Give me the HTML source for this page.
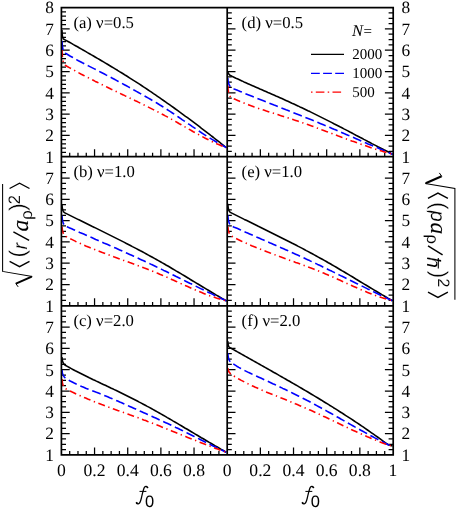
<!DOCTYPE html>
<html><head><meta charset="utf-8"><title>chart</title>
<style>html,body{margin:0;padding:0;background:#fff}svg{display:block;will-change:transform;text-rendering:geometricPrecision}</style>
</head><body>
<svg width="457" height="508" viewBox="0 0 457 508">
<rect width="457" height="508" fill="#fff"/>
<path d="M61.40,152.44h4.6M61.40,148.18h4.6M61.40,143.92h4.6M61.40,139.66h4.6M61.40,135.40h8.3M61.40,131.14h4.6M61.40,126.88h4.6M61.40,122.62h4.6M61.40,118.36h4.6M61.40,114.10h8.3M61.40,109.84h4.6M61.40,105.58h4.6M61.40,101.32h4.6M61.40,97.06h4.6M61.40,92.80h8.3M61.40,88.54h4.6M61.40,84.28h4.6M61.40,80.02h4.6M61.40,75.76h4.6M61.40,71.50h8.3M61.40,67.24h4.6M61.40,62.98h4.6M61.40,58.72h4.6M61.40,54.46h4.6M61.40,50.20h8.3M61.40,45.94h4.6M61.40,41.68h4.6M61.40,37.42h4.6M61.40,33.16h4.6M61.40,28.90h8.3M61.40,24.64h4.6M61.40,20.38h4.6M61.40,16.12h4.6M61.40,11.86h4.6M69.69,156.70v-3.9M77.98,156.70v-3.9M86.27,156.70v-3.9M94.56,156.70v-7.5M102.85,156.70v-3.9M111.14,156.70v-3.9M119.43,156.70v-3.9M127.72,156.70v-7.5M136.01,156.70v-3.9M144.30,156.70v-3.9M152.59,156.70v-3.9M160.88,156.70v-7.5M169.17,156.70v-3.9M177.46,156.70v-3.9M185.75,156.70v-3.9M194.04,156.70v-7.5M202.33,156.70v-3.9M210.62,156.70v-3.9M218.91,156.70v-3.9M61.40,300.48h4.6M61.40,295.15h4.6M61.40,289.82h4.6M61.40,284.50h8.3M61.40,279.18h4.6M61.40,273.85h4.6M61.40,268.53h4.6M61.40,263.20h8.3M61.40,257.88h4.6M61.40,252.55h4.6M61.40,247.23h4.6M61.40,241.90h8.3M61.40,236.57h4.6M61.40,231.25h4.6M61.40,225.93h4.6M61.40,220.60h8.3M61.40,215.28h4.6M61.40,209.95h4.6M61.40,204.62h4.6M61.40,199.30h8.3M61.40,193.98h4.6M61.40,188.65h4.6M61.40,183.32h4.6M61.40,178.00h8.3M61.40,172.68h4.6M61.40,167.35h4.6M61.40,162.03h4.6M69.69,305.80v-3.9M77.98,305.80v-3.9M86.27,305.80v-3.9M94.56,305.80v-7.5M102.85,305.80v-3.9M111.14,305.80v-3.9M119.43,305.80v-3.9M127.72,305.80v-7.5M136.01,305.80v-3.9M144.30,305.80v-3.9M152.59,305.80v-3.9M160.88,305.80v-7.5M169.17,305.80v-3.9M177.46,305.80v-3.9M185.75,305.80v-3.9M194.04,305.80v-7.5M202.33,305.80v-3.9M210.62,305.80v-3.9M218.91,305.80v-3.9M61.40,449.57h4.6M61.40,444.25h4.6M61.40,438.92h4.6M61.40,433.60h8.3M61.40,428.27h4.6M61.40,422.95h4.6M61.40,417.62h4.6M61.40,412.30h8.3M61.40,406.97h4.6M61.40,401.65h4.6M61.40,396.32h4.6M61.40,391.00h8.3M61.40,385.67h4.6M61.40,380.35h4.6M61.40,375.02h4.6M61.40,369.70h8.3M61.40,364.38h4.6M61.40,359.05h4.6M61.40,353.72h4.6M61.40,348.40h8.3M61.40,343.07h4.6M61.40,337.75h4.6M61.40,332.42h4.6M61.40,327.10h8.3M61.40,321.77h4.6M61.40,316.45h4.6M61.40,311.12h4.6M69.69,454.90v-3.9M77.98,454.90v-3.9M86.27,454.90v-3.9M94.56,454.90v-7.5M102.85,454.90v-3.9M111.14,454.90v-3.9M119.43,454.90v-3.9M127.72,454.90v-7.5M136.01,454.90v-3.9M144.30,454.90v-3.9M152.59,454.90v-3.9M160.88,454.90v-7.5M169.17,454.90v-3.9M177.46,454.90v-3.9M185.75,454.90v-3.9M194.04,454.90v-7.5M202.33,454.90v-3.9M210.62,454.90v-3.9M218.91,454.90v-3.9M227.20,151.38h4.6M393.20,151.38h-4.6M227.20,146.05h4.6M393.20,146.05h-4.6M227.20,140.72h4.6M393.20,140.72h-4.6M227.20,135.40h8.3M393.20,135.40h-8.3M227.20,130.07h4.6M393.20,130.07h-4.6M227.20,124.75h4.6M393.20,124.75h-4.6M227.20,119.42h4.6M393.20,119.42h-4.6M227.20,114.10h8.3M393.20,114.10h-8.3M227.20,108.77h4.6M393.20,108.77h-4.6M227.20,103.45h4.6M393.20,103.45h-4.6M227.20,98.12h4.6M393.20,98.12h-4.6M227.20,92.80h8.3M393.20,92.80h-8.3M227.20,87.47h4.6M393.20,87.47h-4.6M227.20,82.15h4.6M393.20,82.15h-4.6M227.20,76.82h4.6M393.20,76.82h-4.6M227.20,71.50h8.3M393.20,71.50h-8.3M227.20,66.17h4.6M393.20,66.17h-4.6M227.20,60.85h4.6M393.20,60.85h-4.6M227.20,55.52h4.6M393.20,55.52h-4.6M227.20,50.20h8.3M393.20,50.20h-8.3M227.20,44.87h4.6M393.20,44.87h-4.6M227.20,39.55h4.6M393.20,39.55h-4.6M227.20,34.22h4.6M393.20,34.22h-4.6M227.20,28.90h8.3M393.20,28.90h-8.3M227.20,23.57h4.6M393.20,23.57h-4.6M227.20,18.25h4.6M393.20,18.25h-4.6M227.20,12.92h4.6M393.20,12.92h-4.6M235.49,156.70v-3.9M243.78,156.70v-3.9M252.07,156.70v-3.9M260.36,156.70v-7.5M268.65,156.70v-3.9M276.94,156.70v-3.9M285.23,156.70v-3.9M293.52,156.70v-7.5M301.81,156.70v-3.9M310.10,156.70v-3.9M318.39,156.70v-3.9M326.68,156.70v-7.5M334.97,156.70v-3.9M343.26,156.70v-3.9M351.55,156.70v-3.9M359.84,156.70v-7.5M368.13,156.70v-3.9M376.42,156.70v-3.9M384.71,156.70v-3.9M227.20,300.48h4.6M393.20,300.48h-4.6M227.20,295.15h4.6M393.20,295.15h-4.6M227.20,289.82h4.6M393.20,289.82h-4.6M227.20,284.50h8.3M393.20,284.50h-8.3M227.20,279.18h4.6M393.20,279.18h-4.6M227.20,273.85h4.6M393.20,273.85h-4.6M227.20,268.53h4.6M393.20,268.53h-4.6M227.20,263.20h8.3M393.20,263.20h-8.3M227.20,257.88h4.6M393.20,257.88h-4.6M227.20,252.55h4.6M393.20,252.55h-4.6M227.20,247.23h4.6M393.20,247.23h-4.6M227.20,241.90h8.3M393.20,241.90h-8.3M227.20,236.57h4.6M393.20,236.57h-4.6M227.20,231.25h4.6M393.20,231.25h-4.6M227.20,225.93h4.6M393.20,225.93h-4.6M227.20,220.60h8.3M393.20,220.60h-8.3M227.20,215.28h4.6M393.20,215.28h-4.6M227.20,209.95h4.6M393.20,209.95h-4.6M227.20,204.62h4.6M393.20,204.62h-4.6M227.20,199.30h8.3M393.20,199.30h-8.3M227.20,193.98h4.6M393.20,193.98h-4.6M227.20,188.65h4.6M393.20,188.65h-4.6M227.20,183.32h4.6M393.20,183.32h-4.6M227.20,178.00h8.3M393.20,178.00h-8.3M227.20,172.68h4.6M393.20,172.68h-4.6M227.20,167.35h4.6M393.20,167.35h-4.6M227.20,162.03h4.6M393.20,162.03h-4.6M235.49,305.80v-3.9M243.78,305.80v-3.9M252.07,305.80v-3.9M260.36,305.80v-7.5M268.65,305.80v-3.9M276.94,305.80v-3.9M285.23,305.80v-3.9M293.52,305.80v-7.5M301.81,305.80v-3.9M310.10,305.80v-3.9M318.39,305.80v-3.9M326.68,305.80v-7.5M334.97,305.80v-3.9M343.26,305.80v-3.9M351.55,305.80v-3.9M359.84,305.80v-7.5M368.13,305.80v-3.9M376.42,305.80v-3.9M384.71,305.80v-3.9M227.20,449.57h4.6M393.20,449.57h-4.6M227.20,444.25h4.6M393.20,444.25h-4.6M227.20,438.92h4.6M393.20,438.92h-4.6M227.20,433.60h8.3M393.20,433.60h-8.3M227.20,428.27h4.6M393.20,428.27h-4.6M227.20,422.95h4.6M393.20,422.95h-4.6M227.20,417.62h4.6M393.20,417.62h-4.6M227.20,412.30h8.3M393.20,412.30h-8.3M227.20,406.97h4.6M393.20,406.97h-4.6M227.20,401.65h4.6M393.20,401.65h-4.6M227.20,396.32h4.6M393.20,396.32h-4.6M227.20,391.00h8.3M393.20,391.00h-8.3M227.20,385.67h4.6M393.20,385.67h-4.6M227.20,380.35h4.6M393.20,380.35h-4.6M227.20,375.02h4.6M393.20,375.02h-4.6M227.20,369.70h8.3M393.20,369.70h-8.3M227.20,364.38h4.6M393.20,364.38h-4.6M227.20,359.05h4.6M393.20,359.05h-4.6M227.20,353.72h4.6M393.20,353.72h-4.6M227.20,348.40h8.3M393.20,348.40h-8.3M227.20,343.07h4.6M393.20,343.07h-4.6M227.20,337.75h4.6M393.20,337.75h-4.6M227.20,332.42h4.6M393.20,332.42h-4.6M227.20,327.10h8.3M393.20,327.10h-8.3M227.20,321.77h4.6M393.20,321.77h-4.6M227.20,316.45h4.6M393.20,316.45h-4.6M227.20,311.12h4.6M393.20,311.12h-4.6M235.49,454.90v-3.9M243.78,454.90v-3.9M252.07,454.90v-3.9M260.36,454.90v-7.5M268.65,454.90v-3.9M276.94,454.90v-3.9M285.23,454.90v-3.9M293.52,454.90v-7.5M301.81,454.90v-3.9M310.10,454.90v-3.9M318.39,454.90v-3.9M326.68,454.90v-7.5M334.97,454.90v-3.9M343.26,454.90v-3.9M351.55,454.90v-3.9M359.84,454.90v-7.5M368.13,454.90v-3.9M376.42,454.90v-3.9M384.71,454.90v-3.9" stroke="#000" stroke-width="1.25" fill="none"/>
<g fill="none" stroke-linejoin="round">
<path d="M61.9,30.0 Q62.3,38.3 63.5,39.0 L65.5,40.1 L67.5,41.2 L69.5,42.3 L71.5,43.4 L73.5,44.6 L75.5,45.7 L77.5,46.8 L79.5,48.0 L81.5,49.1 L83.5,50.3 L85.5,51.4 L87.5,52.6 L89.5,53.7 L91.5,54.9 L93.5,56.0 L95.5,57.2 L97.5,58.4 L99.5,59.5 L101.5,60.7 L103.5,61.9 L105.5,63.1 L107.5,64.3 L109.5,65.5 L111.5,66.7 L113.5,67.9 L115.5,69.1 L117.5,70.3 L119.5,71.6 L121.5,72.8 L123.5,74.0 L125.5,75.3 L127.5,76.5 L129.5,77.8 L131.5,79.1 L133.5,80.4 L135.5,81.6 L137.5,82.9 L139.5,84.2 L141.5,85.5 L143.5,86.9 L145.5,88.2 L147.5,89.5 L149.5,90.9 L151.5,92.2 L153.5,93.6 L155.5,94.9 L157.5,96.3 L159.5,97.7 L161.5,99.1 L163.5,100.5 L165.5,101.9 L167.5,103.3 L169.5,104.7 L171.5,106.1 L173.5,107.5 L175.5,109.0 L177.5,110.4 L179.5,111.9 L181.5,113.3 L183.5,114.8 L185.5,116.3 L187.5,117.7 L189.5,119.2 L191.5,120.7 L193.5,122.2 L195.5,123.7 L197.5,125.2 L199.5,126.7 L201.5,128.3 L203.5,129.8 L205.5,131.3 L207.5,132.9 L209.5,134.4 L211.5,136.0 L213.5,137.5 L215.5,139.1 L217.5,140.6 L219.5,142.2 L221.5,143.8 L223.5,145.4 L225.5,147.0 L226.4,147.7" stroke="#000" stroke-width="1.6"/>
<path d="M62.0,41.0 Q62.4,51.3 64.4,52.5 L66.4,53.8 L68.4,55.0 L70.4,56.2 L72.4,57.3 L74.4,58.5 L76.4,59.6 L78.4,60.7 L80.4,61.7 L82.4,62.8 L84.4,63.8 L86.4,64.9 L88.4,65.9 L90.4,66.9 L92.4,67.9 L94.4,68.9 L96.4,69.9 L98.4,70.9 L100.4,72.0 L102.4,73.0 L104.4,74.0 L106.4,75.1 L108.4,76.1 L110.4,77.2 L112.4,78.2 L114.4,79.3 L116.4,80.4 L118.4,81.5 L120.4,82.5 L122.4,83.6 L124.4,84.7 L126.4,85.8 L128.4,86.9 L130.4,88.0 L132.4,89.1 L134.4,90.3 L136.4,91.4 L138.4,92.5 L140.4,93.6 L142.4,94.7 L144.4,95.9 L146.4,97.0 L148.4,98.1 L150.4,99.3 L152.4,100.5 L154.4,101.6 L156.4,102.8 L158.4,104.0 L160.4,105.3 L162.4,106.5 L164.4,107.8 L166.4,109.1 L168.4,110.4 L170.4,111.7 L172.4,113.0 L174.4,114.3 L176.4,115.7 L178.4,117.0 L180.4,118.4 L182.4,119.8 L184.4,121.1 L186.4,122.5 L188.4,123.9 L190.4,125.2 L192.4,126.6 L194.4,127.9 L196.4,129.3 L198.4,130.6 L200.4,132.0 L202.4,133.3 L204.4,134.6 L206.4,135.9 L208.4,137.1 L210.4,138.4 L212.4,139.6 L214.4,140.8 L216.4,142.0 L218.4,143.2 L220.4,144.3 L222.4,145.4 L224.4,146.5 L226.4,147.6" stroke="#0000ff" stroke-width="1.6" stroke-dasharray="9 3.9"/>
<path d="M62.0,50.0 Q62.4,63.6 65.3,65.3 L67.3,66.5 L69.3,67.6 L71.3,68.7 L73.3,69.8 L75.3,70.9 L77.3,72.0 L79.3,73.1 L81.3,74.2 L83.3,75.2 L85.3,76.3 L87.3,77.3 L89.3,78.3 L91.3,79.3 L93.3,80.3 L95.3,81.4 L97.3,82.3 L99.3,83.3 L101.3,84.3 L103.3,85.3 L105.3,86.3 L107.3,87.2 L109.3,88.2 L111.3,89.2 L113.3,90.1 L115.3,91.1 L117.3,92.1 L119.3,93.0 L121.3,94.0 L123.3,94.9 L125.3,95.9 L127.3,96.8 L129.3,97.8 L131.3,98.8 L133.3,99.7 L135.3,100.7 L137.3,101.6 L139.3,102.6 L141.3,103.6 L143.3,104.6 L145.3,105.6 L147.3,106.6 L149.3,107.6 L151.3,108.6 L153.3,109.6 L155.3,110.6 L157.3,111.6 L159.3,112.7 L161.3,113.7 L163.3,114.8 L165.3,115.9 L167.3,116.9 L169.3,118.0 L171.3,119.1 L173.3,120.3 L175.3,121.4 L177.3,122.5 L179.3,123.7 L181.3,124.8 L183.3,126.0 L185.3,127.1 L187.3,128.3 L189.3,129.4 L191.3,130.5 L193.3,131.7 L195.3,132.8 L197.3,133.9 L199.3,135.0 L201.3,136.1 L203.3,137.1 L205.3,138.2 L207.3,139.2 L209.3,140.2 L211.3,141.2 L213.3,142.1 L215.3,143.1 L217.3,144.0 L219.3,144.8 L221.3,145.7 L223.3,146.5 L225.3,147.2 L226.4,147.6" stroke="#ff0000" stroke-width="1.6" stroke-dasharray="7 3.6 1.3 3.6"/>
<path d="M61.9,204.0 Q62.3,211.5 64.4,212.6 L66.4,213.6 L68.4,214.6 L70.4,215.6 L72.4,216.6 L74.4,217.6 L76.4,218.6 L78.4,219.6 L80.4,220.5 L82.4,221.5 L84.4,222.5 L86.4,223.5 L88.4,224.5 L90.4,225.5 L92.4,226.5 L94.4,227.4 L96.4,228.4 L98.4,229.4 L100.4,230.4 L102.4,231.4 L104.4,232.4 L106.4,233.4 L108.4,234.4 L110.4,235.4 L112.4,236.4 L114.4,237.4 L116.4,238.4 L118.4,239.4 L120.4,240.4 L122.4,241.4 L124.4,242.4 L126.4,243.5 L128.4,244.5 L130.4,245.5 L132.4,246.6 L134.4,247.6 L136.4,248.6 L138.4,249.7 L140.4,250.8 L142.4,251.8 L144.4,252.9 L146.4,254.0 L148.4,255.1 L150.4,256.2 L152.4,257.3 L154.4,258.4 L156.4,259.5 L158.4,260.6 L160.4,261.7 L162.4,262.9 L164.4,264.0 L166.4,265.2 L168.4,266.3 L170.4,267.5 L172.4,268.7 L174.4,269.9 L176.4,271.1 L178.4,272.2 L180.4,273.4 L182.4,274.6 L184.4,275.8 L186.4,277.0 L188.4,278.2 L190.4,279.5 L192.4,280.7 L194.4,281.9 L196.4,283.1 L198.4,284.3 L200.4,285.5 L202.4,286.7 L204.4,287.9 L206.4,289.1 L208.4,290.3 L210.4,291.5 L212.4,292.7 L214.4,293.9 L216.4,295.1 L218.4,296.2 L220.4,297.4 L222.4,298.6 L224.4,299.7 L226.4,300.9 L226.6,301.0" stroke="#000" stroke-width="1.6"/>
<path d="M62.0,215.5 Q62.4,224.7 65.7,226.2 L67.7,227.1 L69.7,227.9 L71.7,228.8 L73.7,229.7 L75.7,230.6 L77.7,231.5 L79.7,232.4 L81.7,233.2 L83.7,234.1 L85.7,235.0 L87.7,235.9 L89.7,236.8 L91.7,237.6 L93.7,238.5 L95.7,239.4 L97.7,240.2 L99.7,241.1 L101.7,242.0 L103.7,242.9 L105.7,243.7 L107.7,244.6 L109.7,245.5 L111.7,246.4 L113.7,247.3 L115.7,248.1 L117.7,249.0 L119.7,249.9 L121.7,250.8 L123.7,251.7 L125.7,252.6 L127.7,253.5 L129.7,254.4 L131.7,255.3 L133.7,256.2 L135.7,257.1 L137.7,258.0 L139.7,259.0 L141.7,259.9 L143.7,260.8 L145.7,261.8 L147.7,262.7 L149.7,263.6 L151.7,264.6 L153.7,265.5 L155.7,266.5 L157.7,267.5 L159.7,268.4 L161.7,269.4 L163.7,270.4 L165.7,271.3 L167.7,272.3 L169.7,273.3 L171.7,274.3 L173.7,275.3 L175.7,276.3 L177.7,277.2 L179.7,278.2 L181.7,279.2 L183.7,280.2 L185.7,281.2 L187.7,282.2 L189.7,283.2 L191.7,284.1 L193.7,285.1 L195.7,286.1 L197.7,287.1 L199.7,288.1 L201.7,289.1 L203.7,290.0 L205.7,291.0 L207.7,292.0 L209.7,292.9 L211.7,293.9 L213.7,294.9 L215.7,295.8 L217.7,296.8 L219.7,297.7 L221.7,298.7 L223.7,299.6 L225.7,300.5 L226.6,301.0" stroke="#0000ff" stroke-width="1.6" stroke-dasharray="9 3.9"/>
<path d="M62.0,226.9 Q62.4,234.5 65.7,236.3 L67.7,237.4 L69.7,238.4 L71.7,239.4 L73.7,240.4 L75.7,241.4 L77.7,242.3 L79.7,243.2 L81.7,244.1 L83.7,245.0 L85.7,245.9 L87.7,246.7 L89.7,247.5 L91.7,248.3 L93.7,249.1 L95.7,249.9 L97.7,250.7 L99.7,251.5 L101.7,252.3 L103.7,253.0 L105.7,253.8 L107.7,254.5 L109.7,255.3 L111.7,256.0 L113.7,256.8 L115.7,257.5 L117.7,258.2 L119.7,258.9 L121.7,259.7 L123.7,260.4 L125.7,261.1 L127.7,261.8 L129.7,262.6 L131.7,263.3 L133.7,264.0 L135.7,264.8 L137.7,265.5 L139.7,266.3 L141.7,267.0 L143.7,267.8 L145.7,268.5 L147.7,269.3 L149.7,270.1 L151.7,270.9 L153.7,271.7 L155.7,272.5 L157.7,273.3 L159.7,274.2 L161.7,275.0 L163.7,275.9 L165.7,276.8 L167.7,277.6 L169.7,278.5 L171.7,279.4 L173.7,280.3 L175.7,281.2 L177.7,282.1 L179.7,283.0 L181.7,283.9 L183.7,284.8 L185.7,285.7 L187.7,286.6 L189.7,287.5 L191.7,288.4 L193.7,289.3 L195.7,290.1 L197.7,291.0 L199.7,291.8 L201.7,292.6 L203.7,293.4 L205.7,294.2 L207.7,294.9 L209.7,295.7 L211.7,296.4 L213.7,297.1 L215.7,297.8 L217.7,298.4 L219.7,299.0 L221.7,299.6 L223.7,300.2 L225.7,300.7 L226.6,300.9" stroke="#ff0000" stroke-width="1.6" stroke-dasharray="7 3.6 1.3 3.6"/>
<path d="M61.9,357.0 Q62.3,363.6 65.3,365.3 L67.3,366.4 L69.3,367.5 L71.3,368.6 L73.3,369.7 L75.3,370.8 L77.3,371.8 L79.3,372.8 L81.3,373.8 L83.3,374.8 L85.3,375.8 L87.3,376.8 L89.3,377.8 L91.3,378.7 L93.3,379.7 L95.3,380.6 L97.3,381.6 L99.3,382.5 L101.3,383.5 L103.3,384.4 L105.3,385.3 L107.3,386.3 L109.3,387.2 L111.3,388.2 L113.3,389.1 L115.3,390.1 L117.3,391.0 L119.3,392.0 L121.3,393.0 L123.3,394.0 L125.3,395.0 L127.3,396.0 L129.3,397.0 L131.3,398.0 L133.3,399.0 L135.3,400.0 L137.3,401.0 L139.3,402.1 L141.3,403.1 L143.3,404.2 L145.3,405.3 L147.3,406.4 L149.3,407.4 L151.3,408.5 L153.3,409.6 L155.3,410.8 L157.3,411.9 L159.3,413.0 L161.3,414.1 L163.3,415.3 L165.3,416.4 L167.3,417.6 L169.3,418.7 L171.3,419.9 L173.3,421.1 L175.3,422.2 L177.3,423.4 L179.3,424.6 L181.3,425.8 L183.3,427.0 L185.3,428.2 L187.3,429.3 L189.3,430.5 L191.3,431.7 L193.3,432.9 L195.3,434.1 L197.3,435.3 L199.3,436.5 L201.3,437.7 L203.3,438.8 L205.3,440.0 L207.3,441.2 L209.3,442.4 L211.3,443.5 L213.3,444.7 L215.3,445.9 L217.3,447.0 L219.3,448.2 L221.3,449.4 L223.3,450.5 L225.3,451.6 L226.3,452.2" stroke="#000" stroke-width="1.6"/>
<path d="M62.0,370.0 Q62.4,376.3 65.7,378.3 L67.7,379.5 L69.7,380.7 L71.7,381.7 L73.7,382.8 L75.7,383.8 L77.7,384.7 L79.7,385.6 L81.7,386.5 L83.7,387.3 L85.7,388.2 L87.7,389.0 L89.7,389.8 L91.7,390.5 L93.7,391.3 L95.7,392.1 L97.7,392.8 L99.7,393.6 L101.7,394.4 L103.7,395.2 L105.7,396.0 L107.7,396.8 L109.7,397.7 L111.7,398.5 L113.7,399.4 L115.7,400.2 L117.7,401.1 L119.7,402.0 L121.7,402.8 L123.7,403.7 L125.7,404.6 L127.7,405.5 L129.7,406.4 L131.7,407.3 L133.7,408.2 L135.7,409.1 L137.7,410.0 L139.7,410.9 L141.7,411.8 L143.7,412.7 L145.7,413.6 L147.7,414.5 L149.7,415.4 L151.7,416.3 L153.7,417.2 L155.7,418.1 L157.7,419.0 L159.7,420.0 L161.7,420.9 L163.7,421.8 L165.7,422.7 L167.7,423.6 L169.7,424.5 L171.7,425.5 L173.7,426.4 L175.7,427.4 L177.7,428.3 L179.7,429.3 L181.7,430.2 L183.7,431.2 L185.7,432.2 L187.7,433.2 L189.7,434.2 L191.7,435.2 L193.7,436.2 L195.7,437.2 L197.7,438.2 L199.7,439.2 L201.7,440.2 L203.7,441.2 L205.7,442.2 L207.7,443.2 L209.7,444.2 L211.7,445.2 L213.7,446.2 L215.7,447.1 L217.7,448.1 L219.7,449.1 L221.7,450.0 L223.7,451.0 L225.7,451.9 L226.3,452.2" stroke="#0000ff" stroke-width="1.6" stroke-dasharray="9 3.9"/>
<path d="M62.0,379.0 Q62.4,387.1 65.7,388.8 L67.7,389.8 L69.7,390.8 L71.7,391.8 L73.7,392.7 L75.7,393.7 L77.7,394.6 L79.7,395.5 L81.7,396.4 L83.7,397.3 L85.7,398.1 L87.7,399.0 L89.7,399.8 L91.7,400.6 L93.7,401.4 L95.7,402.2 L97.7,403.0 L99.7,403.8 L101.7,404.6 L103.7,405.3 L105.7,406.1 L107.7,406.8 L109.7,407.5 L111.7,408.3 L113.7,409.0 L115.7,409.7 L117.7,410.5 L119.7,411.2 L121.7,411.9 L123.7,412.6 L125.7,413.3 L127.7,414.0 L129.7,414.8 L131.7,415.5 L133.7,416.2 L135.7,416.9 L137.7,417.6 L139.7,418.4 L141.7,419.1 L143.7,419.9 L145.7,420.6 L147.7,421.4 L149.7,422.1 L151.7,422.9 L153.7,423.7 L155.7,424.5 L157.7,425.3 L159.7,426.1 L161.7,426.9 L163.7,427.7 L165.7,428.5 L167.7,429.3 L169.7,430.1 L171.7,430.9 L173.7,431.7 L175.7,432.5 L177.7,433.3 L179.7,434.2 L181.7,435.0 L183.7,435.8 L185.7,436.6 L187.7,437.4 L189.7,438.2 L191.7,439.0 L193.7,439.8 L195.7,440.6 L197.7,441.4 L199.7,442.2 L201.7,443.0 L203.7,443.8 L205.7,444.6 L207.7,445.4 L209.7,446.1 L211.7,446.9 L213.7,447.7 L215.7,448.4 L217.7,449.1 L219.7,449.9 L221.7,450.6 L223.7,451.3 L225.7,452.0 L226.3,452.2" stroke="#ff0000" stroke-width="1.6" stroke-dasharray="7 3.6 1.3 3.6"/>
<path d="M227.7,71.0 Q228.1,74.4 229.9,75.3 L231.9,76.3 L233.9,77.2 L235.9,78.2 L237.9,79.1 L239.9,80.0 L241.9,80.9 L243.9,81.9 L245.9,82.8 L247.9,83.7 L249.9,84.6 L251.9,85.4 L253.9,86.3 L255.9,87.2 L257.9,88.1 L259.9,89.0 L261.9,89.8 L263.9,90.7 L265.9,91.6 L267.9,92.5 L269.9,93.3 L271.9,94.2 L273.9,95.1 L275.9,96.0 L277.9,96.8 L279.9,97.7 L281.9,98.6 L283.9,99.5 L285.9,100.4 L287.9,101.3 L289.9,102.2 L291.9,103.2 L293.9,104.1 L295.9,105.0 L297.9,105.9 L299.9,106.9 L301.9,107.8 L303.9,108.7 L305.9,109.7 L307.9,110.7 L309.9,111.6 L311.9,112.6 L313.9,113.6 L315.9,114.6 L317.9,115.6 L319.9,116.6 L321.9,117.6 L323.9,118.6 L325.9,119.6 L327.9,120.6 L329.9,121.6 L331.9,122.6 L333.9,123.7 L335.9,124.7 L337.9,125.7 L339.9,126.8 L341.9,127.8 L343.9,128.9 L345.9,129.9 L347.9,130.9 L349.9,132.0 L351.9,133.0 L353.9,134.1 L355.9,135.2 L357.9,136.2 L359.9,137.3 L361.9,138.3 L363.9,139.4 L365.9,140.4 L367.9,141.5 L369.9,142.5 L371.9,143.6 L373.9,144.6 L375.9,145.6 L377.9,146.7 L379.9,147.7 L381.9,148.7 L383.9,149.8 L385.9,150.8 L387.9,151.8 L389.9,152.8 L391.9,153.9 L392.6,154.2" stroke="#000" stroke-width="1.6"/>
<path d="M227.8,78.0 Q228.2,86.4 232.1,88.0 L234.1,88.9 L236.1,89.7 L238.1,90.6 L240.1,91.4 L242.1,92.2 L244.1,93.1 L246.1,93.9 L248.1,94.7 L250.1,95.5 L252.1,96.3 L254.1,97.1 L256.1,97.9 L258.1,98.7 L260.1,99.5 L262.1,100.3 L264.1,101.1 L266.1,101.9 L268.1,102.7 L270.1,103.5 L272.1,104.3 L274.1,105.1 L276.1,105.8 L278.1,106.6 L280.1,107.4 L282.1,108.2 L284.1,109.0 L286.1,109.8 L288.1,110.5 L290.1,111.3 L292.1,112.1 L294.1,112.9 L296.1,113.7 L298.1,114.5 L300.1,115.3 L302.1,116.1 L304.1,116.9 L306.1,117.7 L308.1,118.5 L310.1,119.3 L312.1,120.1 L314.1,120.9 L316.1,121.8 L318.1,122.6 L320.1,123.4 L322.1,124.2 L324.1,125.1 L326.1,125.9 L328.1,126.8 L330.1,127.6 L332.1,128.4 L334.1,129.3 L336.1,130.1 L338.1,131.0 L340.1,131.8 L342.1,132.7 L344.1,133.6 L346.1,134.4 L348.1,135.3 L350.1,136.1 L352.1,137.0 L354.1,137.8 L356.1,138.7 L358.1,139.6 L360.1,140.4 L362.1,141.3 L364.1,142.1 L366.1,143.0 L368.1,143.9 L370.1,144.7 L372.1,145.6 L374.1,146.4 L376.1,147.3 L378.1,148.1 L380.1,149.0 L382.1,149.8 L384.1,150.7 L386.1,151.5 L388.1,152.4 L390.1,153.2 L392.1,154.0 L392.6,154.2" stroke="#0000ff" stroke-width="1.6" stroke-dasharray="9 3.9"/>
<path d="M227.8,85.6 Q228.2,96.2 231.7,97.8 L233.7,98.7 L235.7,99.6 L237.7,100.4 L239.7,101.3 L241.7,102.1 L243.7,102.9 L245.7,103.7 L247.7,104.5 L249.7,105.2 L251.7,105.9 L253.7,106.7 L255.7,107.4 L257.7,108.1 L259.7,108.8 L261.7,109.4 L263.7,110.1 L265.7,110.8 L267.7,111.4 L269.7,112.1 L271.7,112.7 L273.7,113.3 L275.7,114.0 L277.7,114.6 L279.7,115.3 L281.7,115.9 L283.7,116.5 L285.7,117.2 L287.7,117.8 L289.7,118.4 L291.7,119.1 L293.7,119.8 L295.7,120.4 L297.7,121.1 L299.7,121.8 L301.7,122.5 L303.7,123.2 L305.7,123.9 L307.7,124.6 L309.7,125.3 L311.7,126.0 L313.7,126.7 L315.7,127.5 L317.7,128.2 L319.7,128.9 L321.7,129.7 L323.7,130.4 L325.7,131.2 L327.7,131.9 L329.7,132.7 L331.7,133.4 L333.7,134.2 L335.7,134.9 L337.7,135.7 L339.7,136.4 L341.7,137.2 L343.7,137.9 L345.7,138.7 L347.7,139.4 L349.7,140.1 L351.7,140.9 L353.7,141.6 L355.7,142.3 L357.7,143.0 L359.7,143.7 L361.7,144.4 L363.7,145.1 L365.7,145.8 L367.7,146.5 L369.7,147.2 L371.7,147.9 L373.7,148.5 L375.7,149.2 L377.7,149.8 L379.7,150.4 L381.7,151.1 L383.7,151.7 L385.7,152.3 L387.7,152.8 L389.7,153.4 L391.7,154.0 L392.6,154.2" stroke="#ff0000" stroke-width="1.6" stroke-dasharray="7 3.6 1.3 3.6"/>
<path d="M227.8,203.8 Q228.2,211.3 230.3,212.4 L232.3,213.4 L234.3,214.4 L236.3,215.4 L238.3,216.4 L240.3,217.4 L242.3,218.4 L244.3,219.4 L246.3,220.3 L248.3,221.3 L250.3,222.3 L252.3,223.3 L254.3,224.3 L256.3,225.3 L258.3,226.3 L260.3,227.2 L262.3,228.2 L264.3,229.2 L266.3,230.2 L268.3,231.2 L270.3,232.2 L272.3,233.2 L274.3,234.2 L276.3,235.2 L278.3,236.2 L280.3,237.2 L282.3,238.2 L284.3,239.2 L286.3,240.2 L288.3,241.2 L290.3,242.2 L292.3,243.3 L294.3,244.3 L296.3,245.3 L298.3,246.4 L300.3,247.4 L302.3,248.4 L304.3,249.5 L306.3,250.6 L308.3,251.6 L310.3,252.7 L312.3,253.8 L314.3,254.9 L316.3,256.0 L318.3,257.1 L320.3,258.2 L322.3,259.3 L324.3,260.4 L326.3,261.5 L328.3,262.7 L330.3,263.8 L332.3,265.0 L334.3,266.1 L336.3,267.3 L338.3,268.5 L340.3,269.7 L342.3,270.9 L344.3,272.0 L346.3,273.2 L348.3,274.4 L350.3,275.6 L352.3,276.8 L354.3,278.0 L356.3,279.3 L358.3,280.5 L360.3,281.7 L362.3,282.9 L364.3,284.1 L366.3,285.3 L368.3,286.5 L370.3,287.7 L372.3,288.9 L374.3,290.1 L376.3,291.3 L378.3,292.5 L380.3,293.7 L382.3,294.9 L384.3,296.0 L386.3,297.2 L388.3,298.4 L390.3,299.5 L392.3,300.7 L392.5,300.8" stroke="#000" stroke-width="1.6"/>
<path d="M227.9,215.3 Q228.3,224.5 231.6,226.0 L233.6,226.9 L235.6,227.7 L237.6,228.6 L239.6,229.5 L241.6,230.4 L243.6,231.3 L245.6,232.2 L247.6,233.0 L249.6,233.9 L251.6,234.8 L253.6,235.7 L255.6,236.6 L257.6,237.4 L259.6,238.3 L261.6,239.2 L263.6,240.0 L265.6,240.9 L267.6,241.8 L269.6,242.7 L271.6,243.5 L273.6,244.4 L275.6,245.3 L277.6,246.2 L279.6,247.1 L281.6,247.9 L283.6,248.8 L285.6,249.7 L287.6,250.6 L289.6,251.5 L291.6,252.4 L293.6,253.3 L295.6,254.2 L297.6,255.1 L299.6,256.0 L301.6,256.9 L303.6,257.8 L305.6,258.8 L307.6,259.7 L309.6,260.6 L311.6,261.6 L313.6,262.5 L315.6,263.4 L317.6,264.4 L319.6,265.3 L321.6,266.3 L323.6,267.3 L325.6,268.2 L327.6,269.2 L329.6,270.2 L331.6,271.1 L333.6,272.1 L335.6,273.1 L337.6,274.1 L339.6,275.1 L341.6,276.1 L343.6,277.0 L345.6,278.0 L347.6,279.0 L349.6,280.0 L351.6,281.0 L353.6,282.0 L355.6,283.0 L357.6,283.9 L359.6,284.9 L361.6,285.9 L363.6,286.9 L365.6,287.9 L367.6,288.9 L369.6,289.8 L371.6,290.8 L373.6,291.8 L375.6,292.7 L377.6,293.7 L379.6,294.7 L381.6,295.6 L383.6,296.6 L385.6,297.5 L387.6,298.5 L389.6,299.4 L391.6,300.3 L392.5,300.8" stroke="#0000ff" stroke-width="1.6" stroke-dasharray="9 3.9"/>
<path d="M227.9,226.7 Q228.3,234.3 231.6,236.1 L233.6,237.2 L235.6,238.2 L237.6,239.2 L239.6,240.2 L241.6,241.2 L243.6,242.1 L245.6,243.0 L247.6,243.9 L249.6,244.8 L251.6,245.7 L253.6,246.5 L255.6,247.3 L257.6,248.1 L259.6,248.9 L261.6,249.7 L263.6,250.5 L265.6,251.3 L267.6,252.1 L269.6,252.8 L271.6,253.6 L273.6,254.3 L275.6,255.1 L277.6,255.8 L279.6,256.6 L281.6,257.3 L283.6,258.0 L285.6,258.7 L287.6,259.5 L289.6,260.2 L291.6,260.9 L293.6,261.6 L295.6,262.4 L297.6,263.1 L299.6,263.8 L301.6,264.6 L303.6,265.3 L305.6,266.1 L307.6,266.8 L309.6,267.6 L311.6,268.3 L313.6,269.1 L315.6,269.9 L317.6,270.7 L319.6,271.5 L321.6,272.3 L323.6,273.1 L325.6,274.0 L327.6,274.8 L329.6,275.7 L331.6,276.6 L333.6,277.4 L335.6,278.3 L337.6,279.2 L339.6,280.1 L341.6,281.0 L343.6,281.9 L345.6,282.8 L347.6,283.7 L349.6,284.6 L351.6,285.5 L353.6,286.4 L355.6,287.3 L357.6,288.2 L359.6,289.1 L361.6,289.9 L363.6,290.8 L365.6,291.6 L367.6,292.4 L369.6,293.2 L371.6,294.0 L373.6,294.7 L375.6,295.5 L377.6,296.2 L379.6,296.9 L381.6,297.6 L383.6,298.2 L385.6,298.8 L387.6,299.4 L389.6,300.0 L391.6,300.5 L392.5,300.7" stroke="#ff0000" stroke-width="1.6" stroke-dasharray="7 3.6 1.3 3.6"/>
<path d="M227.7,341.0 Q228.1,346.6 229.5,347.4 L231.5,348.5 L233.5,349.6 L235.5,350.7 L237.5,351.9 L239.5,353.0 L241.5,354.1 L243.5,355.2 L245.5,356.4 L247.5,357.5 L249.5,358.6 L251.5,359.7 L253.5,360.9 L255.5,362.0 L257.5,363.1 L259.5,364.2 L261.5,365.4 L263.5,366.5 L265.5,367.6 L267.5,368.8 L269.5,369.9 L271.5,371.0 L273.5,372.2 L275.5,373.3 L277.5,374.4 L279.5,375.6 L281.5,376.7 L283.5,377.9 L285.5,379.0 L287.5,380.2 L289.5,381.3 L291.5,382.5 L293.5,383.6 L295.5,384.8 L297.5,385.9 L299.5,387.1 L301.5,388.3 L303.5,389.5 L305.5,390.6 L307.5,391.8 L309.5,393.0 L311.5,394.2 L313.5,395.4 L315.5,396.6 L317.5,397.8 L319.5,399.0 L321.5,400.2 L323.5,401.5 L325.5,402.7 L327.5,403.9 L329.5,405.2 L331.5,406.4 L333.5,407.7 L335.5,408.9 L337.5,410.2 L339.5,411.5 L341.5,412.7 L343.5,414.0 L345.5,415.3 L347.5,416.6 L349.5,417.9 L351.5,419.2 L353.5,420.5 L355.5,421.9 L357.5,423.2 L359.5,424.5 L361.5,425.9 L363.5,427.2 L365.5,428.6 L367.5,430.0 L369.5,431.4 L371.5,432.8 L373.5,434.2 L375.5,435.6 L377.5,437.0 L379.5,438.4 L381.5,439.9 L383.5,441.3 L385.5,442.8 L387.5,444.2 L388.2,444.7 L392.6,446.0" stroke="#000" stroke-width="1.6"/>
<path d="M227.8,353.0 Q228.2,360.3 230.8,362.2 L232.8,363.6 L234.8,364.9 L236.8,366.2 L238.8,367.4 L240.8,368.5 L242.8,369.6 L244.8,370.6 L246.8,371.6 L248.8,372.6 L250.8,373.5 L252.8,374.5 L254.8,375.4 L256.8,376.3 L258.8,377.2 L260.8,378.1 L262.8,379.0 L264.8,380.0 L266.8,380.9 L268.8,381.8 L270.8,382.7 L272.8,383.7 L274.8,384.6 L276.8,385.5 L278.8,386.5 L280.8,387.4 L282.8,388.4 L284.8,389.3 L286.8,390.3 L288.8,391.3 L290.8,392.2 L292.8,393.2 L294.8,394.2 L296.8,395.2 L298.8,396.2 L300.8,397.2 L302.8,398.2 L304.8,399.2 L306.8,400.3 L308.8,401.3 L310.8,402.4 L312.8,403.4 L314.8,404.5 L316.8,405.6 L318.8,406.7 L320.8,407.8 L322.8,408.9 L324.8,410.0 L326.8,411.1 L328.8,412.2 L330.8,413.3 L332.8,414.4 L334.8,415.6 L336.8,416.7 L338.8,417.8 L340.8,419.0 L342.8,420.1 L344.8,421.2 L346.8,422.4 L348.8,423.5 L350.8,424.6 L352.8,425.7 L354.8,426.9 L356.8,428.0 L358.8,429.1 L360.8,430.2 L362.8,431.3 L364.8,432.4 L366.8,433.5 L368.8,434.6 L370.8,435.7 L372.8,436.8 L374.8,437.9 L376.8,438.9 L378.8,440.0 L380.8,441.0 L382.8,442.0 L384.8,443.0 L386.8,444.0 L388.2,444.7 L392.6,446.0" stroke="#0000ff" stroke-width="1.6" stroke-dasharray="9 3.9"/>
<path d="M227.8,368.0 Q228.2,372.5 231.3,374.5 L233.3,375.7 L235.3,376.9 L237.3,378.1 L239.3,379.3 L241.3,380.4 L243.3,381.4 L245.3,382.5 L247.3,383.5 L249.3,384.5 L251.3,385.4 L253.3,386.3 L255.3,387.3 L257.3,388.1 L259.3,389.0 L261.3,389.9 L263.3,390.7 L265.3,391.6 L267.3,392.4 L269.3,393.2 L271.3,394.0 L273.3,394.8 L275.3,395.6 L277.3,396.4 L279.3,397.2 L281.3,398.0 L283.3,398.8 L285.3,399.6 L287.3,400.5 L289.3,401.3 L291.3,402.1 L293.3,402.9 L295.3,403.8 L297.3,404.6 L299.3,405.4 L301.3,406.3 L303.3,407.1 L305.3,408.0 L307.3,408.9 L309.3,409.8 L311.3,410.6 L313.3,411.5 L315.3,412.4 L317.3,413.4 L319.3,414.3 L321.3,415.2 L323.3,416.2 L325.3,417.1 L327.3,418.0 L329.3,419.0 L331.3,419.9 L333.3,420.9 L335.3,421.9 L337.3,422.8 L339.3,423.8 L341.3,424.7 L343.3,425.7 L345.3,426.6 L347.3,427.6 L349.3,428.5 L351.3,429.5 L353.3,430.4 L355.3,431.3 L357.3,432.2 L359.3,433.1 L361.3,434.0 L363.3,434.9 L365.3,435.8 L367.3,436.7 L369.3,437.5 L371.3,438.4 L373.3,439.2 L375.3,440.0 L377.3,440.8 L379.3,441.6 L381.3,442.4 L383.3,443.2 L385.3,443.9 L387.3,444.6 L388.2,444.9 L392.6,446.2" stroke="#ff0000" stroke-width="1.6" stroke-dasharray="7 3.6 1.3 3.6"/>
</g>
<path d="M61.4,7.6H393.2V454.9H61.4Z M227.2,7.6V454.9 M61.4,156.7H393.2 M61.4,305.8H393.2" stroke="#000" stroke-width="1.7" fill="none" stroke-linejoin="miter"/>
<g font-family="Liberation Serif, serif" font-size="17.6" fill="#000">
<text x="53.8" y="162.50" text-anchor="end" font-size="17.3">1</text>
<text x="53.8" y="141.20" text-anchor="end" font-size="17.3">2</text>
<text x="53.8" y="119.90" text-anchor="end" font-size="17.3">3</text>
<text x="53.8" y="98.60" text-anchor="end" font-size="17.3">4</text>
<text x="53.8" y="77.30" text-anchor="end" font-size="17.3">5</text>
<text x="53.8" y="56.00" text-anchor="end" font-size="17.3">6</text>
<text x="53.8" y="34.70" text-anchor="end" font-size="17.3">7</text>
<text x="53.8" y="13.40" text-anchor="end" font-size="17.3">8</text>
<text x="53.8" y="311.60" text-anchor="end" font-size="17.3">1</text>
<text x="53.8" y="290.30" text-anchor="end" font-size="17.3">2</text>
<text x="53.8" y="269.00" text-anchor="end" font-size="17.3">3</text>
<text x="53.8" y="247.70" text-anchor="end" font-size="17.3">4</text>
<text x="53.8" y="226.40" text-anchor="end" font-size="17.3">5</text>
<text x="53.8" y="205.10" text-anchor="end" font-size="17.3">6</text>
<text x="53.8" y="183.80" text-anchor="end" font-size="17.3">7</text>
<text x="53.8" y="460.70" text-anchor="end" font-size="17.3">1</text>
<text x="53.8" y="439.40" text-anchor="end" font-size="17.3">2</text>
<text x="53.8" y="418.10" text-anchor="end" font-size="17.3">3</text>
<text x="53.8" y="396.80" text-anchor="end" font-size="17.3">4</text>
<text x="53.8" y="375.50" text-anchor="end" font-size="17.3">5</text>
<text x="53.8" y="354.20" text-anchor="end" font-size="17.3">6</text>
<text x="53.8" y="332.90" text-anchor="end" font-size="17.3">7</text>
<text x="401.6" y="162.50" text-anchor="start" font-size="17.3">1</text>
<text x="401.6" y="141.20" text-anchor="start" font-size="17.3">2</text>
<text x="401.6" y="119.90" text-anchor="start" font-size="17.3">3</text>
<text x="401.6" y="98.60" text-anchor="start" font-size="17.3">4</text>
<text x="401.6" y="77.30" text-anchor="start" font-size="17.3">5</text>
<text x="401.6" y="56.00" text-anchor="start" font-size="17.3">6</text>
<text x="401.6" y="34.70" text-anchor="start" font-size="17.3">7</text>
<text x="401.6" y="13.40" text-anchor="start" font-size="17.3">8</text>
<text x="401.6" y="311.60" text-anchor="start" font-size="17.3">1</text>
<text x="401.6" y="290.30" text-anchor="start" font-size="17.3">2</text>
<text x="401.6" y="269.00" text-anchor="start" font-size="17.3">3</text>
<text x="401.6" y="247.70" text-anchor="start" font-size="17.3">4</text>
<text x="401.6" y="226.40" text-anchor="start" font-size="17.3">5</text>
<text x="401.6" y="205.10" text-anchor="start" font-size="17.3">6</text>
<text x="401.6" y="183.80" text-anchor="start" font-size="17.3">7</text>
<text x="401.6" y="460.70" text-anchor="start" font-size="17.3">1</text>
<text x="401.6" y="439.40" text-anchor="start" font-size="17.3">2</text>
<text x="401.6" y="418.10" text-anchor="start" font-size="17.3">3</text>
<text x="401.6" y="396.80" text-anchor="start" font-size="17.3">4</text>
<text x="401.6" y="375.50" text-anchor="start" font-size="17.3">5</text>
<text x="401.6" y="354.20" text-anchor="start" font-size="17.3">6</text>
<text x="401.6" y="332.90" text-anchor="start" font-size="17.3">7</text>
<text x="61.40" y="475.6" text-anchor="middle">0</text>
<text x="94.56" y="475.6" text-anchor="middle">0.2</text>
<text x="127.72" y="475.6" text-anchor="middle">0.4</text>
<text x="160.88" y="475.6" text-anchor="middle">0.6</text>
<text x="194.04" y="475.6" text-anchor="middle">0.8</text>
<text x="227.20" y="475.6" text-anchor="middle">0</text>
<text x="260.36" y="475.6" text-anchor="middle">0.2</text>
<text x="293.52" y="475.6" text-anchor="middle">0.4</text>
<text x="326.68" y="475.6" text-anchor="middle">0.6</text>
<text x="359.84" y="475.6" text-anchor="middle">0.8</text>
<text x="393.00" y="475.6" text-anchor="middle">1</text>
</g>
<g font-family="Liberation Serif, serif" font-size="16.7" fill="#000">
<text x="73.4" y="27.5">(a) ν=0.5</text>
<text x="73.4" y="176.6">(b) ν=1.0</text>
<text x="73.4" y="325.7">(c) ν=2.0</text>
<text x="241.6" y="27.5">(d) ν=0.5</text>
<text x="241.6" y="176.6">(e) ν=1.0</text>
<text x="241.6" y="325.7">(f) ν=2.0</text>
</g>
<g font-family="Liberation Serif, serif" font-size="15" fill="#000">
<text x="352" y="36.3"><tspan font-style="italic" font-size="16.5">N</tspan><tspan dx="0.6">=</tspan></text>
<text x="352.3" y="59.3">2000</text>
<text x="352.3" y="78.2">1000</text>
<text x="352.3" y="97.3">500</text>
</g>
<path d="M311,54.4H344" stroke="#000" stroke-width="1.2"/>
<path d="M311,73.4H344" stroke="#0000ff" stroke-width="1.2" stroke-dasharray="8.8 3.3"/>
<path d="M311,92.2H344" stroke="#ff0000" stroke-width="1.2" stroke-dasharray="1.5 3.3 8.6 3.3"/>
<g transform="translate(0.0,0)" fill="none" stroke="#000" stroke-linecap="round"><path d="M147.5,487.5 C147.3,486.2 145.5,485.7 144.4,487.3 C143.4,488.9 142.8,492 141.4,498 C140.6,501.4 139.8,503.7 138.3,503.9 C137.3,504 136.7,503.5 136.4,502.9" stroke-width="1.25"/><path d="M139.9,491.4 H146" stroke-width="1.0"/><circle cx="147.3" cy="487.5" r="0.55" fill="#000" stroke-width="0.5"/><circle cx="136.7" cy="502.9" r="0.55" fill="#000" stroke-width="0.5"/></g>
<text x="144.9" y="506.7" font-family="Liberation Sans, sans-serif" font-size="16.5">0</text>
<g transform="translate(165.9,0)" fill="none" stroke="#000" stroke-linecap="round"><path d="M147.5,487.5 C147.3,486.2 145.5,485.7 144.4,487.3 C143.4,488.9 142.8,492 141.4,498 C140.6,501.4 139.8,503.7 138.3,503.9 C137.3,504 136.7,503.5 136.4,502.9" stroke-width="1.25"/><path d="M139.9,491.4 H146" stroke-width="1.0"/><circle cx="147.3" cy="487.5" r="0.55" fill="#000" stroke-width="0.5"/><circle cx="136.7" cy="502.9" r="0.55" fill="#000" stroke-width="0.5"/></g>
<text x="310.79999999999995" y="506.7" font-family="Liberation Sans, sans-serif" font-size="16.5">0</text>
<g transform="translate(26.5,287.2) rotate(-90)"><path d="M0.3,-8.3 L3.8,-10.8" stroke="#000" stroke-width="1.0" fill="none"/><path d="M3.6,-10.6 L10.6,5.3" stroke="#000" stroke-width="2.1" fill="none"/><path d="M10.8,5.8 L15.8,-23.9 H103.1" stroke="#000" stroke-width="1.05" fill="none" stroke-linejoin="miter"/><path d="M25.8,-16.9 L20.5,-6.95 L25.8,3.0" stroke="#000" stroke-width="1.35" fill="none"/><text x="29.8" y="-1.6" font-size="22.5" font-family="Liberation Sans, sans-serif" stroke="#fff" stroke-width="0.12">(</text><text x="37.6" y="0" font-size="20" font-family="Liberation Sans, sans-serif" font-style="italic" stroke="#fff" stroke-width="0.12">r</text><path d="M46.9,2.6 L55.4,-13.1" stroke="#000" stroke-width="1.45" fill="none"/><text x="55.6" y="1.6" font-size="23.5" font-family="Liberation Serif, serif" font-style="italic" stroke="#000" stroke-width="0.1">a</text><text x="67.4" y="5.5" font-size="16.5" font-family="Liberation Sans, sans-serif" stroke="#fff" stroke-width="0.12">ρ</text><text x="76.5" y="-1.6" font-size="22.5" font-family="Liberation Sans, sans-serif" stroke="#fff" stroke-width="0.12">)</text><text x="83.0" y="-6.5" font-size="16.5" font-family="Liberation Sans, sans-serif" stroke="#fff" stroke-width="0.12">2</text><path d="M98.7,-16.9 L104.0,-6.95 L98.7,3.0" stroke="#000" stroke-width="1.35" fill="none"/></g>
<g transform="translate(431,172.6) rotate(90)"><path d="M0.3,-8.3 L3.8,-10.8" stroke="#000" stroke-width="1.0" fill="none"/><path d="M3.6,-10.6 L10.6,5.3" stroke="#000" stroke-width="2.1" fill="none"/><path d="M10.8,5.8 L15.8,-23.9 H127.1" stroke="#000" stroke-width="1.05" fill="none" stroke-linejoin="miter"/><path d="M25.8,-16.9 L20.5,-6.95 L25.8,3.0" stroke="#000" stroke-width="1.35" fill="none"/><text x="29.3" y="-0.9" font-size="22.5" font-family="Liberation Sans, sans-serif" stroke="#fff" stroke-width="0.12">(</text><text x="38.0" y="0" font-size="20" font-family="Liberation Sans, sans-serif" font-style="italic" stroke="#fff" stroke-width="0.12">p</text><text x="49.9" y="0" font-size="23.5" font-family="Liberation Serif, serif" font-style="italic" stroke="#000" stroke-width="0.1">a</text><text x="61.9" y="3.7" font-size="16.5" font-family="Liberation Sans, sans-serif" stroke="#fff" stroke-width="0.12">ρ</text><path d="M73.2,3.0 L82.19999999999999,-11.6" stroke="#000" stroke-width="1.45" fill="none"/><text x="84.3" y="3.6" font-size="19.5" font-family="Liberation Sans, sans-serif" font-style="italic" stroke="#fff" stroke-width="0.12">h</text><path d="M85.3,-7.3 H96" stroke="#000" stroke-width="1.1" fill="none"/><text x="98.1" y="-0.9" font-size="22.5" font-family="Liberation Sans, sans-serif" stroke="#fff" stroke-width="0.12">)</text><text x="105.6" y="-6.6" font-size="16.5" font-family="Liberation Sans, sans-serif" stroke="#fff" stroke-width="0.12">2</text><path d="M119.5,-16.9 L124.8,-6.95 L119.5,3.0" stroke="#000" stroke-width="1.35" fill="none"/></g>
</svg>
</body></html>
